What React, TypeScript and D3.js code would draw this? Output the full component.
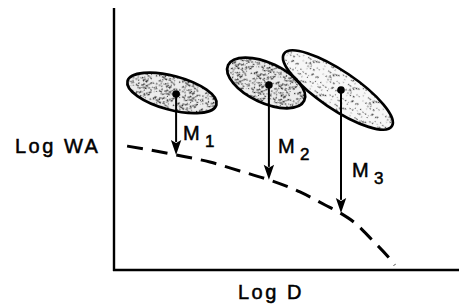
import React from "react";
import * as d3 from "d3";

// ---- data (arbitrary log units) ----
const curveLogD = [0.38, 1.04, 1.8, 2.78, 3.65, 4.49, 5.39, 6.12, 6.55, 6.99, 7.48, 8.0, 8.14];
const curveLogWA = [4.73, 4.58, 4.39, 4.12, 3.78, 3.44, 2.98, 2.48, 2.18, 1.79, 1.15, 0.42, 0.19];

const clusterNames = ["1", "2", "3"];
const clusterCenterLogD = [1.68, 4.41, 6.49];
const clusterCenterLogWA = [6.76, 7.14, 6.87];
const pointLogD = [1.8, 4.49, 6.58];
const pointLogWA = [6.72, 7.06, 6.87];
const tipLogWA = [4.39, 3.44, 2.18];
const labelLogWA = [4.96, 4.47, 3.55];

const xLabel = "Log D";
const yLabel = "Log WA";

// ---- layout / style ----
const W = 459;
const H = 307;
const left = 114;
const right = 459;
const top = 8;
const bottom = 270;

const clusterRx = [46, 42, 65];
const clusterRy = [17, 20, 19];
const clusterAngle = [15, 25, 34];
const clusterFill = ["url(#stipDense)", "url(#stipDense)", "url(#stipLight)"];

const FONT = "'Liberation Sans', Arial, Helvetica, sans-serif";

function hash(i: number, s: number) {
  const v = Math.sin(i * 127.1 + s * 311.7) * 43758.5453;
  return v - Math.floor(v);
}

function dots(n: number, size: number, seed: number) {
  const arr: { x: number; y: number; r: number }[] = [];
  for (let i = 0; i < n; i++) {
    arr.push({ x: hash(i, seed) * size, y: hash(i + 1000, seed + 7) * size, r: 0.45 + hash(i + 2000, seed) * 0.4 });
  }
  return arr;
}

const denseDots = dots(95, 24, 1);
const lightDots = dots(40, 24, 2);

export default function App() {
  const x = d3.scaleLinear().domain([0, 10]).range([left, right]);
  const y = d3.scaleLinear().domain([0, 10]).range([bottom, top]);

  const curvePts: [number, number][] = curveLogD.map((d, i) => [x(d), y(curveLogWA[i])]);
  const line = d3.line().curve(d3.curveMonotoneX);
  const curvePath = line(curvePts) || "";

  const headLen = 15;
  const headW = 5.2;

  return (
    <svg
      width={W}
      height={H}
      style={{ position: "absolute", left: 0, top: 0, background: "#fff" }}
      xmlns="http://www.w3.org/2000/svg"
    >
      <defs>
        <pattern id="stipDense" width={24} height={24} patternUnits="userSpaceOnUse">
          <rect width={24} height={24} fill="#ececec" />
          {denseDots.map((d, i) => (
            <circle key={i} cx={d.x} cy={d.y} r={d.r} fill="#222" />
          ))}
        </pattern>
        <pattern id="stipLight" width={24} height={24} patternUnits="userSpaceOnUse">
          <rect width={24} height={24} fill="#f7f7f7" />
          {lightDots.map((d, i) => (
            <circle key={i} cx={d.x} cy={d.y} r={d.r} fill="#333" />
          ))}
        </pattern>
      </defs>

      {/* cluster fills */}
      {clusterNames.map((n, i) => (
        <ellipse
          key={"f" + n}
          cx={x(clusterCenterLogD[i])}
          cy={y(clusterCenterLogWA[i])}
          rx={clusterRx[i]}
          ry={clusterRy[i]}
          transform={`rotate(${clusterAngle[i]} ${x(clusterCenterLogD[i])} ${y(clusterCenterLogWA[i])})`}
          fill={clusterFill[i]}
        />
      ))}
      {/* cluster outlines */}
      {clusterNames.map((n, i) => (
        <ellipse
          key={"o" + n}
          cx={x(clusterCenterLogD[i])}
          cy={y(clusterCenterLogWA[i])}
          rx={clusterRx[i]}
          ry={clusterRy[i]}
          transform={`rotate(${clusterAngle[i]} ${x(clusterCenterLogD[i])} ${y(clusterCenterLogWA[i])})`}
          fill="none"
          stroke="#000"
          strokeWidth={2.7}
        />
      ))}

      {/* dashed curve */}
      <path d={curvePath} fill="none" stroke="#000" strokeWidth={3} strokeDasharray="16 9" />

      {/* arrows */}
      {clusterNames.map((n, i) => {
        const px = x(pointLogD[i]);
        const py = y(pointLogWA[i]);
        const ty = y(tipLogWA[i]);
        return (
          <g key={"a" + n}>
            <line x1={px} y1={py} x2={px} y2={ty - headLen + 2} stroke="#000" strokeWidth={2} />
            <path
              d={`M${px},${ty} L${px - headW},${ty - headLen} L${px},${ty - headLen + 3} L${px + headW},${ty - headLen} Z`}
              fill="#000"
            />
            <circle cx={px} cy={py} r={3.8} fill="#000" />
          </g>
        );
      })}

      {/* M labels */}
      {clusterNames.map((n, i) => {
        const lx = x(pointLogD[i]) + 7 + i * 2;
        const ly = y(labelLogWA[i]);
        return (
          <text
            key={"l" + n}
            x={lx}
            y={ly}
            fontFamily={FONT}
            fontSize={20}
            fill="#000"
            stroke="#000"
            strokeWidth={0.5}
          >
            M
            <tspan x={lx + 22} dy={7} fontSize={17}>
              {n}
            </tspan>
          </text>
        );
      })}

      {/* axes */}
      <line x1={left} y1={top} x2={left} y2={bottom + 1} stroke="#000" strokeWidth={2.4} />
      <line x1={left - 1} y1={bottom} x2={right} y2={bottom} stroke="#000" strokeWidth={2.4} />

      {/* axis labels */}
      <text
        x={238}
        y={299}
        fontFamily={FONT}
        fontSize={20}
        letterSpacing={2.5}
        fill="#000"
        stroke="#000"
        strokeWidth={0.5}
      >
        {xLabel}
      </text>
      <text
        x={15}
        y={153}
        fontFamily={FONT}
        fontSize={20}
        letterSpacing={2.5}
        fill="#000"
        stroke="#000"
        strokeWidth={0.5}
      >
        {yLabel}
      </text>
    </svg>
  );
}
